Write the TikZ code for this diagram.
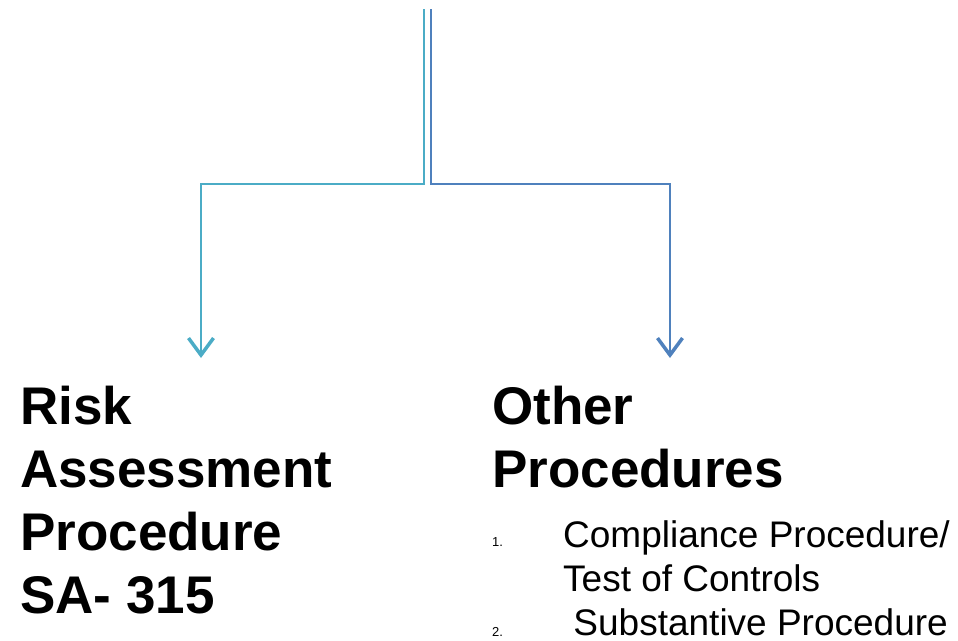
\documentclass[tikz,border=0pt]{standalone}
\usepackage{fontspec}
\setmainfont{Liberation Sans}
\definecolor{tealblue}{RGB}{75,172,198}
\definecolor{steelblue}{RGB}{79,129,189}
\usetikzlibrary{arrows.meta, positioning}

\begin{document}
\begin{tikzpicture}[x=1pt, y=-1pt,
  head/.style={anchor=base west, inner sep=0pt, font=\fontsize{53}{63}\selectfont\bfseries},
  entry/.style={anchor=base west, inner sep=0pt, font=\fontsize{37}{44}\selectfont},
  num/.style={anchor=base west, inner sep=0pt, font=\fontsize{13}{15}\selectfont},
  link/.style={line width=2pt, -{Straight Barb[length=17pt, width=25pt, line width=3.5pt]}}
]
\useasboundingbox (0,0) rectangle (958,640);

% Branch points
\coordinate (srcL) at (424,9);
\coordinate (srcR) at (431,9);
\coordinate (midL) at (201,184);
\coordinate (midR) at (670,184);
\coordinate (tipL) at (201,358);
\coordinate (tipR) at (670,358);

% Left heading
\node[head] (r1) at (20,424) {Risk};
\node[head] (r2) at (20,487) {Assessment};
\node[head] (r3) at (20,550) {Procedure};
\node[head] (r4) at (20,613) {SA- 315};

% Right heading
\node[head] (o1) at (492,424) {Other};
\node[head] (o2) at (492,487) {Procedures};

% List
\node[num] (n1) at (492,546) {1.};
\node[entry] (e1) at (563,547) {Compliance Procedure/};
\node[entry] (e2) at (563,591) {Test of Controls};
\node[num] (n2) at (492,636) {2.};
\node[entry] (e3) at (563,635) {\ Substantive Procedure};

% Connectors
\draw[link, tealblue] (srcL) |- (midL) -- (tipL);
\draw[link, steelblue] (srcR) |- (midR) -- (tipR);
\end{tikzpicture}
\end{document}
